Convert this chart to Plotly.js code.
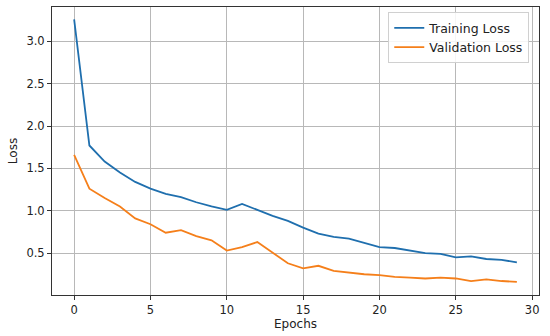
<!DOCTYPE html>
<html>
<head>
<meta charset="utf-8">
<script src="https://cdn.plot.ly/plotly-3.0.1.min.js"></script>
<style>html,body{margin:0;padding:0;background:#fff;}#chart{width:550px;height:336px;}</style>
</head>
<body>
<div id="chart"></div>
<script>
const epochs = [0,1,2,3,4,5,6,7,8,9,10,11,12,13,14,15,16,17,18,19,20,21,22,23,24,25,26,27,28,29];
const trainingLoss = [3.26,1.77,1.58,1.45,1.34,1.26,1.20,1.16,1.10,1.05,1.01,1.08,1.01,0.94,0.88,0.80,0.73,0.69,0.67,0.62,0.57,0.56,0.53,0.50,0.49,0.45,0.46,0.43,0.42,0.39];
const validationLoss = [1.66,1.26,1.15,1.05,0.91,0.84,0.74,0.77,0.70,0.65,0.53,0.57,0.63,0.50,0.38,0.32,0.35,0.29,0.27,0.25,0.24,0.22,0.21,0.20,0.21,0.20,0.17,0.19,0.17,0.16];
const xTicks = [0,5,10,15,20,25,30];
const yTicks = [0.5,1.0,1.5,2.0,2.5,3.0];
const yTickLabels = ['0.5','1.0','1.5','2.0','2.5','3.0'];

const fam = 'DejaVu Sans, sans-serif';
const traces = [
  {x: epochs, y: trainingLoss, mode: 'lines', name: 'Training Loss', line: {color: '#1f6fae', width: 1.8}},
  {x: epochs, y: validationLoss, mode: 'lines', name: 'Validation Loss', line: {color: '#f57f1a', width: 1.8}}
];
const layout = {
  width: 550, height: 336,
  margin: {l: 52, r: 11, t: 7, b: 41},
  paper_bgcolor: '#fff', plot_bgcolor: '#fff',
  font: {family: fam, size: 11.5, color: '#222'},
  showlegend: true,
  legend: {x: 0.98, y: 0.982, xanchor: 'right', yanchor: 'top', itemwidth: 30, tracegroupgap: 0,
    bgcolor: 'rgba(255,255,255,0.85)', bordercolor: '#d0d0d0', borderwidth: 1,
    font: {family: fam, size: 12.5, color: '#222'}},
  xaxis: {
    range: [-1.45, 30.45], tickvals: xTicks, ticktext: xTicks.map(String),
    showgrid: true, gridcolor: '#b8b8b8', gridwidth: 1,
    zeroline: false, showline: true, linecolor: '#333', linewidth: 1, mirror: true,
    ticks: 'outside', ticklen: 4, tickcolor: '#333',
    title: {text: 'Epochs', font: {family: fam, size: 12, color: '#222'}, standoff: 2}
  },
  yaxis: {
    range: [0.005, 3.405], tickvals: yTicks, ticktext: yTickLabels,
    showgrid: true, gridcolor: '#b8b8b8', gridwidth: 1,
    zeroline: false, showline: true, linecolor: '#333', linewidth: 1, mirror: true,
    ticks: 'outside', ticklen: 4, tickcolor: '#333',
    title: {text: 'Loss', font: {family: fam, size: 12, color: '#222'}, standoff: 6}
  }
};
Plotly.newPlot('chart', traces, layout, {staticPlot: true, displayModeBar: false});
</script>
</body>
</html>
